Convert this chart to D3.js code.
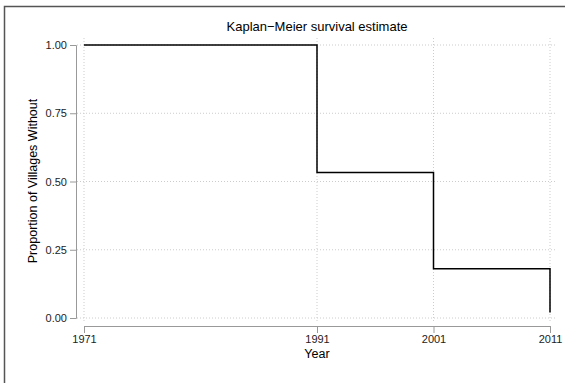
<!DOCTYPE html>
<html>
<head>
<meta charset="utf-8">
<script src="https://cdn.jsdelivr.net/npm/d3@7"></script>
<style>
  body { margin: 0; background: #fff; }
  svg { font-family: "Liberation Sans", Arial, sans-serif; display: block; }
</style>
</head>
<body>
<div id="chart"></div>
<script>
"use strict";

// step points of the survival curve
var years = [1971, 1991, 1991, 2001, 2001, 2011, 2011];
var survival = [1.00, 1.00, 0.533, 0.533, 0.18, 0.18, 0.02];

var xTicks = [1971, 1991, 2001, 2011];
var yTicks = [0, 0.25, 0.5, 0.75, 1];

var W = 565, H = 383;

var svg = d3.select("#chart").append("svg")
    .attr("width", W)
    .attr("height", H);

// outer frame (runs off the right and bottom edges)
svg.append("rect")
    .attr("x", 4.5).attr("y", 6.5)
    .attr("width", 620).attr("height", 420)
    .attr("fill", "none")
    .attr("stroke", "#555")
    .attr("stroke-width", 1.5);

var x = d3.scaleLinear().domain([1971, 2011]).range([84, 550]);
var y = d3.scaleLinear().domain([0, 1]).range([318, 45]);

// grid
var gridLeft = 77, gridRight = 557, gridTop = 38, gridBottom = 323;
svg.append("g").selectAll("line")
    .data(yTicks)
  .enter().append("line")
    .attr("x1", gridLeft).attr("x2", gridRight)
    .attr("y1", function(d) { return y(d); })
    .attr("y2", function(d) { return y(d); })
    .attr("stroke", "#ccc")
    .attr("stroke-dasharray", "1,2");

svg.append("g").selectAll("line")
    .data(xTicks)
  .enter().append("line")
    .attr("y1", gridTop).attr("y2", gridBottom)
    .attr("x1", function(d) { return x(d); })
    .attr("x2", function(d) { return x(d); })
    .attr("stroke", "#ccc")
    .attr("stroke-dasharray", "1,2");

// y axis
var yAxis = svg.append("g")
    .attr("transform", "translate(76,0)")
    .call(d3.axisLeft(y).tickValues(yTicks).tickFormat(d3.format(".2f")).tickSizeOuter(0).tickSize(6).tickPadding(3));

// x axis
var xAxis = svg.append("g")
    .attr("transform", "translate(0,326)")
    .call(d3.axisBottom(x).tickValues(xTicks).tickFormat(d3.format("d")).tickSizeOuter(0).tickSize(7).tickPadding(2));

[xAxis, yAxis].forEach(function(a) {
  a.select(".domain").attr("stroke", "#999");
  a.selectAll(".tick line").attr("stroke", "#999");
  a.selectAll(".tick text")
      .attr("fill", "#222")
      .style("font-size", "11px")
      .style("font-family", "Liberation Sans, Arial, sans-serif");
});

// survival curve
var line = d3.line()
    .x(function(d, i) { return x(years[i]); })
    .y(function(d) { return y(d); });

svg.append("path")
    .datum(survival)
    .attr("d", line)
    .attr("fill", "none")
    .attr("stroke", "#000")
    .attr("stroke-width", 1.5);

// titles
svg.append("text")
    .attr("x", 317).attr("y", 31)
    .attr("text-anchor", "middle")
    .style("font-size", "13px")
    .text("Kaplan\u2212Meier survival estimate");

svg.append("text")
    .attr("x", 317).attr("y", 358)
    .attr("text-anchor", "middle")
    .style("font-size", "12.5px")
    .text("Year");

svg.append("text")
    .attr("transform", "translate(37,181) rotate(-90)")
    .attr("text-anchor", "middle")
    .style("font-size", "12.5px")
    .text("Proportion of Villages Without");
</script>
</body>
</html>
